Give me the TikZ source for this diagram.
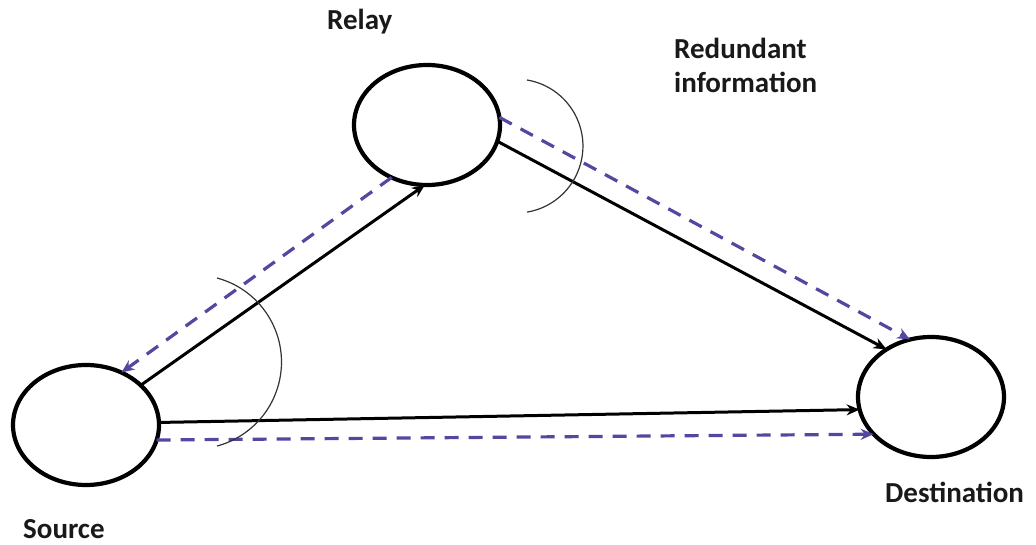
\documentclass[tikz,border=0pt]{standalone}
\usepackage{fontspec}
\setmainfont{Carlito}
\usetikzlibrary{shapes.geometric,arrows.meta}
\definecolor{dashblue}{RGB}{82,72,160}
\definecolor{txt}{RGB}{25,25,25}
\tikzset{
  station/.style={ellipse,draw=black,line width=4.2pt,minimum width=146pt,minimum height=120pt,inner sep=0pt,outer sep=0pt},
  lbl/.style={font=\fontsize{29}{34}\selectfont\bfseries,text=txt,inner sep=0pt,anchor=base west,align=left},
  solidlink/.style={line width=3pt,-{Stealth[length=13pt,width=11pt]}},
  dashlink/.style={line width=3.2pt,dashed,dash pattern=on 14pt off 10pt,draw=dashblue,-{Stealth[length=13pt,width=11pt]},dashblue},
  sector/.style={line width=1.2pt,draw=black!80}
}
\begin{document}
\begin{tikzpicture}[x=1pt,y=1pt]
\useasboundingbox (0,0) rectangle (1036,-545);
\node[station] (src) at (86,-425) {};
\node[station] (rel) at (427,-125) {};
\node[station] (dst) at (931,-397) {};
\node[lbl] (lrel) at (327,-30) {Relay};
\node[lbl] (lred) at (674,-93) {Redundant\\information};
\node[lbl] (lsrc) at (23,-538) {Source};
\node[lbl] (ldst) at (885,-502) {Destination};
% links
\draw[solidlink] (src.36) -- (rel.268);
\draw[dashlink] (rel.236) -- (src.56);
\draw[solidlink] (rel.347) -- (dst.133);
\draw[dashlink] (rel.6) -- (dst.110);
\draw[solidlink] (src.2) -- (dst.190);
\draw[dashlink] (src.348) -- (dst.213);
% sector arcs
\draw[sector] (217,-278) arc[start angle=75,end angle=-75,radius=87];
\draw[sector] (527,-80) arc[start angle=80.5,end angle=-80.5,radius=67];
\end{tikzpicture}
\end{document}
